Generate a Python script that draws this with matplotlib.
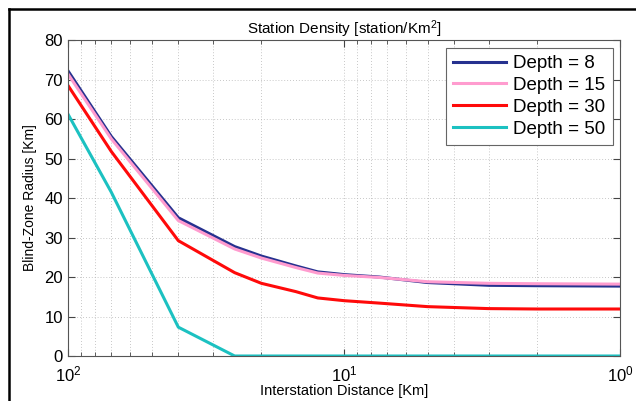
import numpy as np
import matplotlib
matplotlib.use("Agg")
import matplotlib.pyplot as plt
from matplotlib.lines import Line2D
from matplotlib.ticker import LogLocator

plt.rcParams["font.family"] = ["Liberation Sans", "DejaVu Sans"]
plt.rcParams["mathtext.fontset"] = "custom"
plt.rcParams["mathtext.rm"] = "Liberation Sans"
plt.rcParams["mathtext.it"] = "Liberation Sans"

# --------------------------------------------------
# Data
# --------------------------------------------------
distance = [100, 70, 40, 25, 20, 15, 12.5, 10, 7.5, 5, 3, 2, 1]

depth_8 = [72.0, 55.6, 35.0, 27.7, 25.3, 22.8, 21.3, 20.6, 20.0, 18.6, 17.9, 17.8, 17.7]
depth_15 = [71.2, 55.0, 34.3, 27.1, 24.8, 22.4, 21.0, 20.4, 19.9, 18.8, 18.4, 18.3, 18.2]
depth_30 = [68.3, 51.8, 29.2, 21.1, 18.4, 16.3, 14.7, 14.0, 13.4, 12.5, 12.0, 11.9, 11.9]
depth_50 = [61.0, 41.5, 7.3, 0.0, 0.0, 0.0, 0.0, 0.0, 0.0, 0.0, 0.0, 0.0, 0.0]

labels = ["Depth = 8", "Depth = 15", "Depth = 30", "Depth = 50"]
colors = ["#26318f", "#ff9ccf", "#ff0a0a", "#1cc1c1"]

# --------------------------------------------------
# Figure
# --------------------------------------------------
fig = plt.figure(figsize=(6.36, 4.01), dpi=100)
ax = fig.add_axes([0.1077, 0.1122, 0.8679, 0.788])

for ys, lab, col in zip([depth_8, depth_15, depth_30, depth_50], labels, colors):
    ax.plot(distance, ys, color=col, lw=2.2, label=lab)

ax.set_xscale("log")
ax.set_xlim(100, 1)
ax.set_ylim(0, 80)
ax.set_yticks(np.arange(0, 81, 10))
ax.xaxis.set_minor_locator(LogLocator(base=10, subs=np.arange(2, 10)))

grid_kw = dict(color="#b5b5b5", lw=0.6, dashes=(1, 2.5))
ax.grid(True, which="major", axis="both", **grid_kw)
ax.grid(True, which="minor", axis="x", **grid_kw)

ax.tick_params(which="both", direction="in", top=True, right=True,
               color="#444444")
ax.tick_params(which="major", length=5, labelsize=12)
ax.tick_params(axis="y", which="major", pad=4)
ax.tick_params(axis="x", which="major", pad=6)
ax.tick_params(which="minor", length=3)
for s in ax.spines.values():
    s.set_color("#555555")
    s.set_linewidth(0.8)

ax.set_xlabel("Interstation Distance [Km]", fontsize=10.5, labelpad=0)
ax.set_ylabel("Blind-Zone Radius [Km]", fontsize=10, labelpad=5)
ax.set_title("Station Density [station/Km$^2$]", fontsize=11, pad=4)

leg = ax.legend(loc="upper right", fontsize=13.5, handlelength=2.8,
                handletextpad=0.4, labelspacing=0.25, borderpad=0.4,
                borderaxespad=0.4, fancybox=False, framealpha=1)
leg.get_frame().set_edgecolor("#666666")
leg.get_frame().set_linewidth(0.8)

# black screenshot border on the left and top
fig.add_artist(Line2D([8.5 / 636, 8.5 / 636], [0, 1 - 8.5 / 401],
                      transform=fig.transFigure, color="black", lw=1.8))
fig.add_artist(Line2D([8.5 / 636, 1], [1 - 8.5 / 401, 1 - 8.5 / 401],
                      transform=fig.transFigure, color="black", lw=1.8))

fig.savefig("out.png", dpi=100)
